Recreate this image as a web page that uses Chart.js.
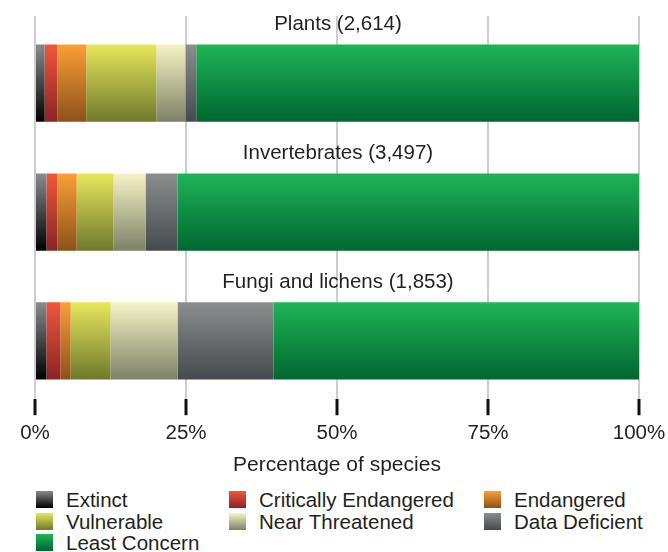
<!DOCTYPE html>
<html lang="en">
<head>
  <meta charset="UTF-8">
  <title>Red List status by group</title>
  <script src="https://cdn.jsdelivr.net/npm/chart.js"></script>
  <style>
    body {
      margin: 0;
      padding: 0;
      background-color: #fff;
      font-family: "Liberation Sans", Arial, sans-serif;
      color: #231f20;
    }

    #chart-container {
      position: absolute;
      left: 0;
      top: 0;
      width: 668px;
      height: 484px;
    }

    #legend {
      position: absolute;
      left: 36px;
      top: 489px;
      display: grid;
      grid-template-columns: 193px 255px auto;
      font-size: 20.5px;
      line-height: 21.5px;
    }

    .item {
      display: flex;
      align-items: center;
      white-space: nowrap;
    }

    .swatch {
      width: 17px;
      height: 17px;
      margin-right: 13px;
    }
  </style>
</head>
<body>
  <div id="chart-container">
    <canvas id="statusChart"></canvas>
  </div>
  <div id="legend"></div>

  <script>
    // groups and number of species assessed
    const categories = ['Plants (2,614)', 'Invertebrates (3,497)', 'Fungi and lichens (1,853)'];
    const statuses = ['Extinct', 'Critically Endangered', 'Endangered', 'Vulnerable',
      'Near Threatened', 'Data Deficient', 'Least Concern'];

    // percentage of species per status, one value per group
    const extinct = [1.6, 1.9, 1.9];
    const critical = [2.1, 1.8, 2.3];
    const endangered = [4.8, 3.2, 1.7];
    const vulnerable = [11.6, 6.1, 6.6];
    const nearThreatened = [4.8, 5.3, 11.1];
    const dataDeficient = [1.8, 5.3, 15.9];
    const leastConcern = [73.3, 76.4, 60.5];

    const xTicks = [0, 25, 50, 75, 100];

    // gradient colours, top -> bottom
    const topColors = ['#8a8b8d', '#f2563c', '#fa9f36', '#e8e75c', '#f6f4c6', '#8c8d8f', '#1fb457'];
    const bottomColors = ['#000000', '#8a2325', '#8c511a', '#6e792b', '#7d8165', '#444a4d', '#006630'];

    const series = [extinct, critical, endangered, vulnerable, nearThreatened, dataDeficient, leastConcern];

    const BAR_PCT = 0.6;
    const FONT = '"Liberation Sans", Arial, sans-serif';

    // half bar thickness in pixels, from the row scale
    function halfBar(yScale) {
      return Math.abs(yScale.getPixelForValue(1) - yScale.getPixelForValue(0)) * BAR_PCT / 2;
    }

    function barFill(i) {
      return function (ctx) {
        const chart = ctx.chart;
        const yScale = chart.scales.y;
        if (ctx.type !== 'data' || !yScale) return topColors[i];
        const half = halfBar(yScale);
        const yc = yScale.getPixelForValue(ctx.dataIndex);
        if (!isFinite(yc) || !isFinite(half) || half <= 0) return topColors[i];
        const g = chart.ctx.createLinearGradient(0, yc - half, 0, yc + half);
        g.addColorStop(0, topColors[i]);
        g.addColorStop(1, bottomColors[i]);
        return g;
      };
    }

    // group names written above each bar
    const groupLabels = {
      id: 'groupLabels',
      afterDatasetsDraw(chart) {
        const { ctx, chartArea, scales } = chart;
        const half = halfBar(scales.y);
        const cx = (chartArea.left + chartArea.right) / 2;
        ctx.save();
        ctx.font = '20.5px ' + FONT;
        ctx.fillStyle = '#231f20';
        ctx.textAlign = 'center';
        ctx.textBaseline = 'middle';
        categories.forEach((c, i) => {
          const top = scales.y.getPixelForValue(i) - half;
          ctx.fillText(c, cx + 1, top - 20);
        });
        ctx.restore();
      }
    };

    const ctx = document.getElementById('statusChart').getContext('2d');
    const chart = new Chart(ctx, {
      type: 'bar',
      data: {
        datasets: statuses.map((s, i) => ({
          label: s,
          data: series[i].map((v, j) => ({ x: v, y: j })),
          backgroundColor: barFill(i),
          borderWidth: 0,
          barPercentage: BAR_PCT,
          categoryPercentage: 1
        }))
      },
      options: {
        indexAxis: 'y',
        responsive: true,
        maintainAspectRatio: false,
        animation: false,
        layout: {
          padding: { left: 35, right: 29, top: 16, bottom: 0 }
        },
        plugins: {
          legend: { display: false },
          tooltip: { enabled: false }
        },
        scales: {
          x: {
            stacked: true,
            min: 0,
            max: 100,
            afterBuildTicks: (axis) => {
              axis.ticks = xTicks.map(v => ({ value: v }));
            },
            // let the layout padding alone decide the plot edges
            afterFit: (axis) => {
              axis.paddingLeft = 0;
              axis.paddingRight = 0;
            },
            border: { display: false },
            grid: {
              color: '#cdcdcd',
              lineWidth: 2,
              tickLength: 16,
              tickColor: '#111',
              tickWidth: 3
            },
            ticks: {
              padding: 6,
              maxRotation: 0,
              color: '#231f20',
              font: { family: FONT, size: 20.5 },
              callback: (v) => v + '%'
            },
            title: {
              display: true,
              text: 'Percentage of species',
              color: '#231f20',
              padding: { top: 1, bottom: 6 },
              font: { family: FONT, size: 21 }
            }
          },
          y: {
            type: 'linear',
            stacked: true,
            reverse: true,
            offset: false,
            bounds: 'data',
            min: -0.521,
            max: 2.452,
            afterBuildTicks: (axis) => {
              axis.ticks = categories.map((c, i) => ({ value: i }));
            },
            display: false
          }
        }
      },
      plugins: [groupLabels]
    });

    // HTML legend, three columns
    const legend = document.getElementById('legend');
    statuses.forEach((s, i) => {
      const item = document.createElement('div');
      item.className = 'item';
      const sw = document.createElement('span');
      sw.className = 'swatch';
      sw.style.background = 'linear-gradient(' + topColors[i] + ', ' + bottomColors[i] + ')';
      const txt = document.createElement('span');
      txt.textContent = s;
      item.appendChild(sw);
      item.appendChild(txt);
      legend.appendChild(item);
    });
  </script>
</body>
</html>
